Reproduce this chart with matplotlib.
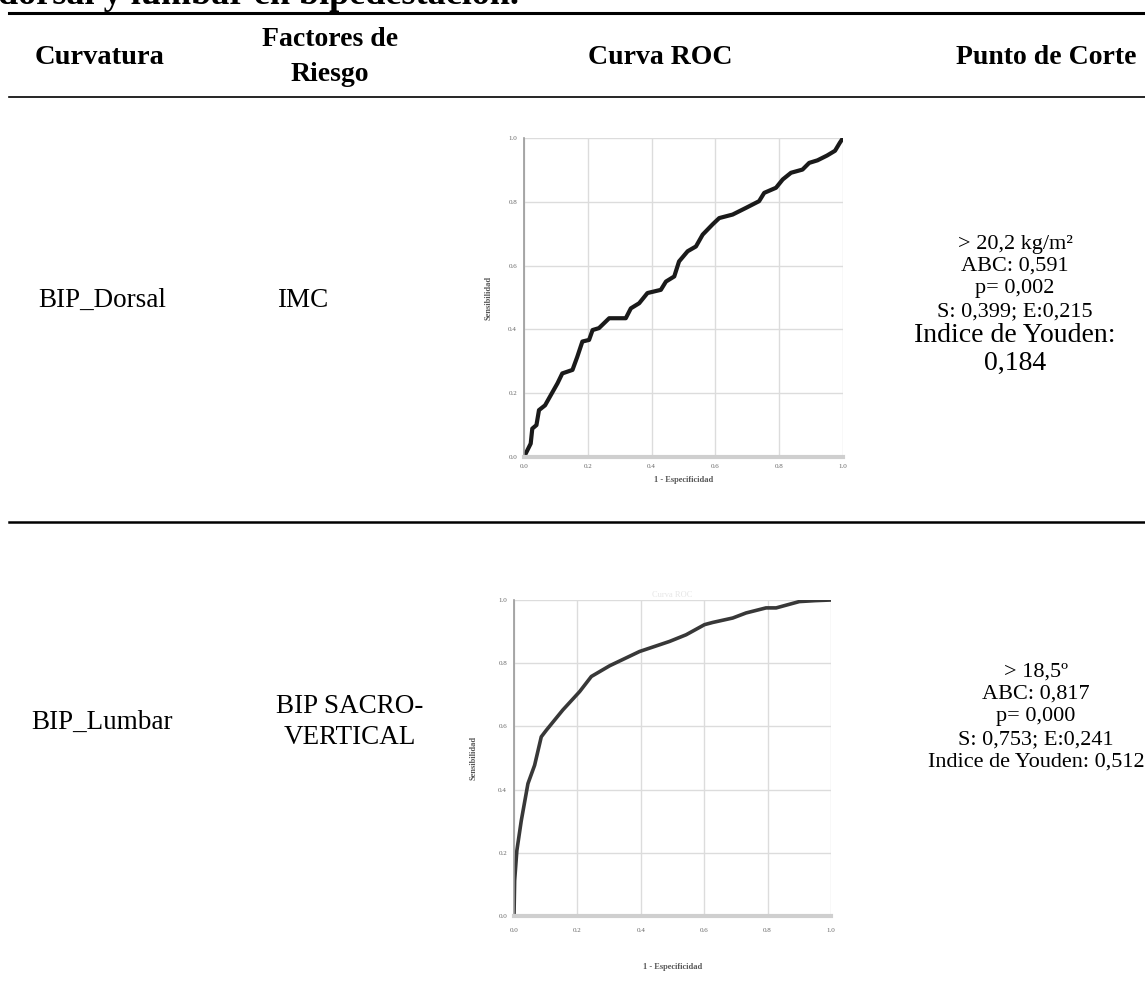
import matplotlib.pyplot as plt
from matplotlib.lines import Line2D

plt.rcParams["font.family"] = ["Liberation Serif", "DejaVu Serif"]

W, H = 1145, 1001

# --- table text ---
headers = ["Curvatura", "Factores de\nRiesgo", "Curva ROC", "Punto de Corte"]
curvaturas = ["BIP_Dorsal", "BIP_Lumbar"]
factores = ["IMC", "BIP SACRO-\nVERTICAL"]
corte_dorsal = ["> 20,2 kg/m²", "ABC: 0,591", "p= 0,002", "S: 0,399; E:0,215"]
youden_dorsal = ["Indice de Youden:", "0,184"]
corte_lumbar = ["> 18,5º", "ABC: 0,817", "p= 0,000", "S: 0,753; E:0,241",
                "Indice de Youden: 0,512"]

# --- ROC curves (1 - especificidad, sensibilidad) ---
fpr_dorsal = [0.0, 0.021, 0.026, 0.039, 0.047, 0.066, 0.084, 0.105, 0.12, 0.152,
              0.167, 0.183, 0.204, 0.215, 0.235, 0.267, 0.319, 0.335, 0.361, 0.387,
              0.429, 0.445, 0.471, 0.486, 0.513, 0.539, 0.56, 0.591, 0.612, 0.654,
              0.696, 0.737, 0.753, 0.79, 0.811, 0.837, 0.873, 0.894, 0.92, 0.95,
              0.975, 0.99, 1.0]
tpr_dorsal = [0.0, 0.042, 0.089, 0.10, 0.147, 0.162, 0.194, 0.231, 0.262, 0.273,
              0.314, 0.362, 0.367, 0.398, 0.404, 0.435, 0.435, 0.466, 0.482, 0.514,
              0.524, 0.55, 0.566, 0.613, 0.645, 0.66, 0.697, 0.729, 0.749, 0.76,
              0.781, 0.802, 0.828, 0.844, 0.87, 0.891, 0.901, 0.922, 0.93, 0.945,
              0.96, 0.985, 1.0]

fpr_lumbar = [0.0, 0.002, 0.009, 0.023, 0.044, 0.065, 0.086, 0.102, 0.154, 0.207,
              0.244, 0.302, 0.396, 0.491, 0.543, 0.601, 0.627, 0.69, 0.732, 0.795,
              0.827, 0.9, 0.95, 1.0]
tpr_lumbar = [0.0, 0.112, 0.207, 0.302, 0.419, 0.477, 0.567, 0.588, 0.652, 0.71,
              0.758, 0.792, 0.837, 0.869, 0.89, 0.922, 0.929, 0.943, 0.959, 0.975,
              0.975, 0.995, 0.998, 1.0]

ticks = [0.0, 0.2, 0.4, 0.6, 0.8, 1.0]
tick_labels = ["0.0", "0.2", "0.4", "0.6", "0.8", "1.0"]


def fx(px):
    return px / W


def fy(py):
    return 1 - py / H


fig = plt.figure(figsize=(W / 100, H / 100), dpi=100)

# title cut at top of the page
fig.text(fx(-2), fy(4), "dorsal y lumbar en bipedestación.", fontsize=26,
         fontweight="bold", ha="left", va="baseline")

# horizontal rules
for y, lw in [(13, 2.2), (97, 1.2), (522, 1.8)]:
    fig.add_artist(Line2D([fx(9), 1], [fy(y), fy(y)], transform=fig.transFigure,
                          color="black", lw=lw))

# header
fig.text(fx(100), fy(57), headers[0], fontsize=20.5, fontweight="bold", ha="center", va="center")
fig.text(fx(330), fy(57), headers[1], fontsize=20, fontweight="bold", ha="center",
         va="center", linespacing=1.55)
fig.text(fx(660), fy(57), headers[2], fontsize=20, fontweight="bold", ha="center", va="center")
fig.text(fx(1046), fy(57), headers[3], fontsize=20, fontweight="bold", ha="center", va="center")

# row 1
fig.text(fx(102), fy(300), curvaturas[0], fontsize=19.5, ha="center", va="center")
fig.text(fx(303), fy(300), factores[0], fontsize=19.5, ha="center", va="center")
for i, s in enumerate(corte_dorsal):
    fig.text(fx(1015), fy(244 + 22.5 * i), s, fontsize=16, ha="center", va="center")
fig.text(fx(1015), fy(335), youden_dorsal[0], fontsize=20, ha="center", va="center")
fig.text(fx(1015), fy(363), youden_dorsal[1], fontsize=20, ha="center", va="center")

# row 2
fig.text(fx(102), fy(722), curvaturas[1], fontsize=19.5, ha="center", va="center")
fig.text(fx(350), fy(722), factores[1], fontsize=19.5, ha="center", va="center",
         linespacing=1.3)
for i, s in enumerate(corte_lumbar):
    fig.text(fx(1036), fy(672 + 22.5 * i), s, fontsize=16, ha="center", va="center")


def roc_axes(left, top, right, bottom, fpr, tpr, color, lw, ylab_x, xlab_y, pad):
    ax = fig.add_axes([fx(left), fy(bottom), fx(right - left), (bottom - top) / H])
    ax.plot(fpr, tpr, color=color, lw=lw, solid_joinstyle="round")
    ax.set_xlim(0, 1)
    ax.set_ylim(0, 1)
    ax.set_xticks(ticks)
    ax.set_yticks(ticks)
    ax.set_xticklabels(tick_labels)
    ax.set_yticklabels(tick_labels)
    ax.tick_params(length=0, labelsize=5, colors="#666666", pad=5)
    ax.tick_params(axis="x", pad=pad)
    ax.grid(True, color="#dcdcdc", lw=1)
    ax.set_axisbelow(True)
    for side in ["top", "right"]:
        ax.spines[side].set_visible(False)
    ax.spines["left"].set_color("#9a9a9a")
    ax.spines["left"].set_linewidth(1.2)
    ax.spines["bottom"].set_color("#cfcfcf")
    ax.spines["bottom"].set_linewidth(3)
    ax.set_ylabel("Sensibilidad", fontsize=6, fontweight="bold", color="#555555")
    ax.set_xlabel("1 - Especificidad", fontsize=6, fontweight="bold", color="#555555")
    ax.yaxis.set_label_coords(ylab_x, 0.5)
    ax.xaxis.set_label_coords(0.5, xlab_y)
    return ax


roc_axes(524, 138, 843, 457, fpr_dorsal, tpr_dorsal, "#1a1a1a", 3.0, -0.098, -0.058, 5)
ax2 = roc_axes(514, 600, 831, 916, fpr_lumbar, tpr_lumbar, "#383838", 2.6, -0.116, -0.15, 9)
ax2.set_title("Curva ROC", fontsize=6, color="#e6e6e6", pad=2)

fig.savefig("out.png", dpi=100)
